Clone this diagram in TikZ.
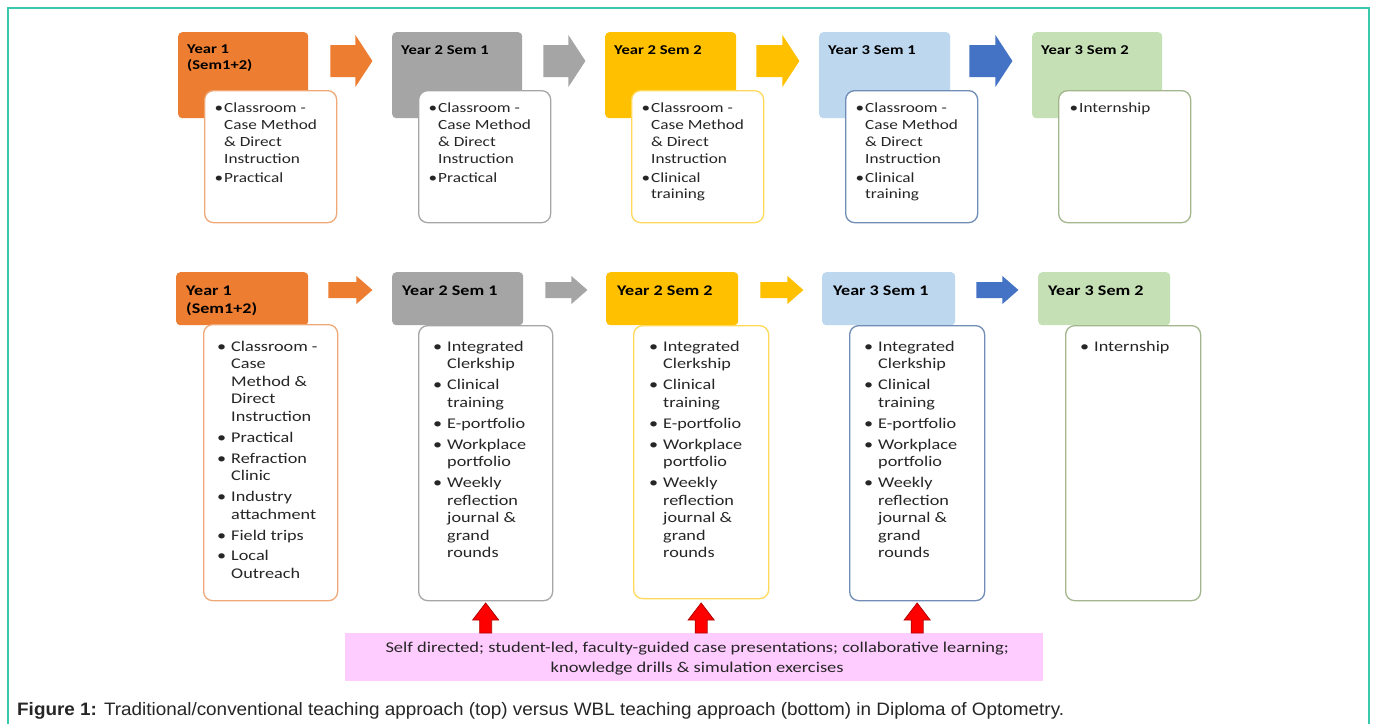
\documentclass[tikz,border=0pt]{standalone}
\usepackage{fontspec}
\newfontfamily\calfont{Carlito}[FakeStretch=1.23]
\newfontfamily\capfont{Liberation Sans}[FakeStretch=1.05]
\usetikzlibrary{calc}
\definecolor{cOr}{HTML}{ED7D31}
\definecolor{cGr}{HTML}{A5A5A5}
\definecolor{cYe}{HTML}{FFC000}
\definecolor{cLb}{HTML}{BDD7EE}
\definecolor{cBl}{HTML}{4472C4}
\definecolor{cGn}{HTML}{C5E0B4}
\definecolor{bOr}{HTML}{EFA878}
\definecolor{bGr}{HTML}{A6A6A6}
\definecolor{bYe}{HTML}{FFD95A}
\definecolor{bLb}{HTML}{6F8DB5}
\definecolor{bGn}{HTML}{A3B68E}
\definecolor{cPk}{HTML}{FFCCFF}
\definecolor{cRd}{HTML}{FF0000}
\definecolor{cRdD}{HTML}{B00000}
\definecolor{cFr}{HTML}{3BC9AE}
\definecolor{cTx}{HTML}{262626}
\newcommand\harr[6]{\fill[#6] (#1) ++(0,-#3) -- ++({#2-#5},0) -- ++(0,{#3-#4}) -- ++(#5,#4) -- ++(-#5,#4) -- ++(0,{#3-#4}) -- ++({#5-#2},0) -- cycle;}
\newcommand\uparr[1]{\filldraw[fill=cRd, draw=cRdD, line width=0.8pt] (#1) ++(-6,0) -- ++(0,-13) -- ++(-7,0) -- ++(13,-17) -- ++(13,17) -- ++(-7,0) -- ++(0,13) -- cycle;}
\newcommand\tb{\llap{•\hspace{1pt}}}
\newcommand\bb{\llap{•\hspace{5pt}}}
\begin{document}
\begin{tikzpicture}[x=1pt,y=-1pt,
  hdr/.style={rectangle, rounded corners=4pt, draw=none, anchor=north west, inner sep=0pt},
  cbox/.style={rectangle, rounded corners=9pt, fill=white, line width=1.3pt, anchor=north west, inner sep=0pt},
  htop/.style={anchor=north west, inner sep=0pt, align=left, text=black, font=\calfont\bfseries\fontsize{13.5}{16}\selectfont},
  hbot/.style={anchor=north west, inner sep=0pt, align=left, text=black, font=\calfont\bfseries\fontsize{14.7}{18}\selectfont},
  ttop/.style={anchor=north west, inner sep=0pt, align=left, text=cTx, font=\calfont\fontsize{14}{16.7}\selectfont},
  tbot/.style={anchor=north west, inner sep=0pt, align=left, text=cTx, font=\calfont\fontsize{14.8}{17.5}\selectfont}]
\useasboundingbox (0,0) rectangle (1375,724);
\fill[white] (0,0) rectangle (1375,724);
\draw[cFr, line width=2pt] (8,724) -- (8,8) -- (1369,8) -- (1369,724);

% ---------- top row ----------
\node[hdr, fill=cOr, minimum width=130, minimum height=86] (t1h) at (178,32) {};
\node[hdr, fill=cGr, minimum width=130, minimum height=86] (t2h) at (392,32) {};
\node[hdr, fill=cYe, minimum width=131, minimum height=86] (t3h) at (605,32) {};
\node[hdr, fill=cLb, minimum width=131, minimum height=86] (t4h) at (819,32) {};
\node[hdr, fill=cGn, minimum width=130, minimum height=86] (t5h) at (1032,32) {};

\node[htop] (t1hl) at (187,45) {Year 1\\(Sem1+2)};
\node[htop] (t2hl) at (401,45) {Year 2 Sem 1};
\node[htop] (t3hl) at (614,45) {Year 2 Sem 2};
\node[htop] (t4hl) at (828,45) {Year 3 Sem 1};
\node[htop] (t5hl) at (1041,45) {Year 3 Sem 2};

\node[cbox, draw=bOr, minimum width=132, minimum height=132] (t1c) at (204,90) {};
\node[cbox, draw=bGr, minimum width=132, minimum height=132] (t2c) at (418,90) {};
\node[cbox, draw=bYe, minimum width=132, minimum height=132] (t3c) at (631,90) {};
\node[cbox, draw=bLb, minimum width=132, minimum height=132] (t4c) at (845,90) {};
\node[cbox, draw=bGn, minimum width=132, minimum height=132] (t5c) at (1058,90) {};

\node[ttop] (t1t) at (224,103) {\tb Classroom -\\Case Method\\\& Direct\\Instruction\\[2.3pt]\tb Practical};
\node[ttop] (t2t) at (438,103) {\tb Classroom -\\Case Method\\\& Direct\\Instruction\\[2.3pt]\tb Practical};
\node[ttop] (t3t) at (651,103) {\tb Classroom -\\Case Method\\\& Direct\\Instruction\\[2.3pt]\tb Clinical\\training};
\node[ttop] (t4t) at (865,103) {\tb Classroom -\\Case Method\\\& Direct\\Instruction\\[2.3pt]\tb Clinical\\training};
\node[ttop] (t5t) at (1079,103) {\tb Internship};

\harr{$(t1h.north east)+(22,29)$}{42}{16}{26}{17}{cOr}
\harr{$(t2h.north east)+(21,29)$}{42}{16}{26}{17}{cGr}
\harr{$(t3h.north east)+(20,29)$}{43}{16}{26}{17}{cYe}
\harr{$(t4h.north east)+(19,29)$}{43}{16}{26}{17}{cBl}

% ---------- bottom row ----------
\node[hdr, fill=cOr, minimum width=132, minimum height=53] (b1h) at (176,272) {};
\node[hdr, fill=cGr, minimum width=131, minimum height=53] (b2h) at (392,272) {};
\node[hdr, fill=cYe, minimum width=132, minimum height=53] (b3h) at (606,272) {};
\node[hdr, fill=cLb, minimum width=133, minimum height=53] (b4h) at (822,272) {};
\node[hdr, fill=cGn, minimum width=132, minimum height=53] (b5h) at (1038,272) {};

\node[hbot] (b1hl) at (186,285.5) {Year 1\\(Sem1+2)};
\node[hbot] (b2hl) at (402,285.5) {Year 2 Sem 1};
\node[hbot] (b3hl) at (617,285.5) {Year 2 Sem 2};
\node[hbot] (b4hl) at (833,285.5) {Year 3 Sem 1};
\node[hbot] (b5hl) at (1048,285.5) {Year 3 Sem 2};

\node[cbox, draw=bOr, minimum width=134, minimum height=276] (b1c) at (203,324) {};
\node[cbox, draw=bGr, minimum width=134, minimum height=275] (b2c) at (418,325) {};
\node[cbox, draw=bYe, minimum width=135, minimum height=273] (b3c) at (633,325) {};
\node[cbox, draw=bLb, minimum width=135, minimum height=275] (b4c) at (849,325) {};
\node[cbox, draw=bGn, minimum width=135, minimum height=275] (b5c) at (1065,325) {};

\node[tbot] (b1t) at (231,341) {\bb Classroom -\\Case\\Method \&\\Direct\\Instruction\\[3.4pt]\bb Practical\\[3.4pt]\bb Refraction\\Clinic\\[3.4pt]\bb Industry\\attachment\\[3.4pt]\bb Field trips\\[3.4pt]\bb Local\\Outreach};
\node[tbot] (b2t) at (447,341) {\bb Integrated\\Clerkship\\[3.4pt]\bb Clinical\\training\\[3.4pt]\bb E-portfolio\\[3.4pt]\bb Workplace\\portfolio\\[3.4pt]\bb Weekly\\reflection\\journal \&\\grand\\rounds};
\node[tbot] (b3t) at (663,341) {\bb Integrated\\Clerkship\\[3.4pt]\bb Clinical\\training\\[3.4pt]\bb E-portfolio\\[3.4pt]\bb Workplace\\portfolio\\[3.4pt]\bb Weekly\\reflection\\journal \&\\grand\\rounds};
\node[tbot] (b4t) at (878,341) {\bb Integrated\\Clerkship\\[3.4pt]\bb Clinical\\training\\[3.4pt]\bb E-portfolio\\[3.4pt]\bb Workplace\\portfolio\\[3.4pt]\bb Weekly\\reflection\\journal \&\\grand\\rounds};
\node[tbot] (b5t) at (1094,341) {\bb Internship};

\harr{$(b1h.north east)+(20,18)$}{44}{8}{14}{16}{cOr}
\harr{$(b2h.north east)+(22,18)$}{42}{8}{14}{16}{cGr}
\harr{$(b3h.north east)+(22,18)$}{43}{8}{14}{16}{cYe}
\harr{$(b4h.north east)+(21,18)$}{42}{8}{14}{16}{cBl}

% ---------- pink box and red arrows ----------
\node[rectangle, fill=cPk, anchor=north west, minimum width=698, minimum height=48, inner sep=0pt] (pk) at (345,633) {};
\node[align=center, inner sep=0pt, text=cTx, font=\calfont\fontsize{15}{20}\selectfont] (pkt) at ($(pk.center)+(3,1)$) {Self directed; student-led, faculty-guided case presentations; collaborative learning;\\knowledge drills \& simulation exercises};
\coordinate (ra1) at (pk.north -| b2c.south);
\coordinate (ra2) at (pk.north -| b3c.south);
\coordinate (ra3) at (pk.north -| b4c.south);
\uparr{ra1}
\uparr{ra2}
\uparr{ra3}

% ---------- caption ----------
\node[anchor=base west, inner sep=0pt, text=cTx, font=\capfont\fontsize{18}{21}\selectfont] (cap) at (17,715) {\textbf{Figure 1:} Traditional/conventional teaching approach (top) versus WBL teaching approach (bottom) in Diploma of Optometry.};
\end{tikzpicture}
\end{document}
